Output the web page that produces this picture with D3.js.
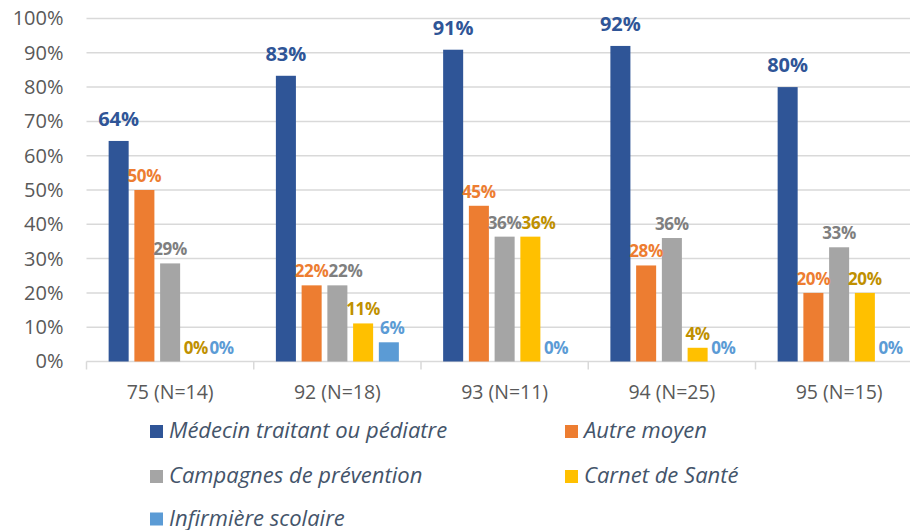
<!DOCTYPE html>
<html>
<head>
<meta charset="utf-8">
<script src="https://cdn.jsdelivr.net/npm/d3@7"></script>
<style>
  html, body { margin: 0; padding: 0; background: #ffffff; }
  svg { display: block; }
  text { font-family: "Open Sans", "Noto Sans", sans-serif; }
</style>
</head>
<body>
<div id="chart"></div>
<script>
// ---- Data ----
const categories = ["75 (N=14)", "92 (N=18)", "93 (N=11)", "94 (N=25)", "95 (N=15)"];
const seriesNames = ["Médecin traitant ou pédiatre", "Autre moyen", "Campagnes de prévention", "Carnet de Santé", "Infirmière scolaire"];
const medecin   = [64.3, 83.3, 90.9, 92, 80];
const autre     = [50, 22.2, 45.4, 28, 20];
const campagnes = [28.6, 22.2, 36.4, 36, 33.3];
const carnet    = [0, 11.1, 36.4, 4, 20];
const infirmiere = [0, 5.6, 0, 0, 0];
const yTicks = [0, 10, 20, 30, 40, 50, 60, 70, 80, 90, 100];

const seriesValues = [medecin, autre, campagnes, carnet, infirmiere];
const barColors = ["#2F5597", "#ED7D31", "#A5A5A5", "#FFC000", "#5B9BD5"];
const labelColors = ["#2F5597", "#ED7D31", "#7F7F7F", "#BF9000", "#5B9BD5"];

// ---- Layout ----
const W = 910, H = 530;
const plotLeft = 86.5, catStep = 167.25;
const plotRight = plotLeft + catStep * categories.length;
const plotTop = 18.5, plotBottom = 361.5;

const svg = d3.select("#chart").append("svg").attr("width", W).attr("height", H);

const x0 = d3.scaleBand().domain(categories).range([plotLeft, plotRight]).padding(0);
const x1 = d3.scaleBand().domain(d3.range(seriesNames.length))
  .range([0, x0.bandwidth()]).paddingInner(0.222).paddingOuter(0.86);
const y = d3.scaleLinear().domain([0, 100]).range([plotBottom, plotTop]);

// gridlines
svg.append("g").selectAll("line").data(yTicks.filter(d => d > 0)).join("line")
  .attr("x1", plotLeft).attr("x2", plotRight)
  .attr("y1", d => y(d)).attr("y2", d => y(d))
  .attr("stroke", "#D9D9D9").attr("stroke-width", 1.5);

// y axis labels
const yAxis = d3.axisLeft(y).tickValues(yTicks).tickFormat(d => d + "%").tickSize(0).tickPadding(23);
const gy = svg.append("g").attr("transform", `translate(${plotLeft},0)`).call(yAxis);
gy.select(".domain").remove();
gy.selectAll("text").attr("font-size", 20).attr("fill", "#595959")
  .attr("font-family", "'Open Sans', sans-serif");

// x axis
const gx = svg.append("g").attr("transform", `translate(0,${plotBottom})`);
gx.append("line").attr("x1", plotLeft).attr("x2", plotRight).attr("y1", 0).attr("y2", 0)
  .attr("stroke", "#D9D9D9").attr("stroke-width", 1.5);
const boundaries = categories.map(c => x0(c)).concat([plotRight]);
gx.selectAll("line.tk").data(boundaries).join("line").attr("class", "tk")
  .attr("x1", d => d).attr("x2", d => d).attr("y1", 0).attr("y2", 8)
  .attr("stroke", "#D9D9D9").attr("stroke-width", 1.5);
gx.selectAll("text").data(categories).join("text")
  .attr("x", d => x0(d) + x0.bandwidth() / 2).attr("y", 37)
  .attr("text-anchor", "middle").attr("font-size", 19.5).attr("fill", "#595959")
  .text(d => d);

// bars
const groups = svg.append("g").selectAll("g").data(categories).join("g")
  .attr("transform", d => `translate(${x0(d)},0)`);
groups.selectAll("rect").data((c, ci) => seriesValues.map((vals, si) => ({ si, v: vals[ci] })))
  .join("rect")
  .attr("x", d => x1(d.si)).attr("width", x1.bandwidth())
  .attr("y", d => y(d.v)).attr("height", d => y(0) - y(d.v))
  .attr("fill", d => barColors[d.si]);

// labels
groups.each(function () {
  const labels = d3.select(this).selectAll("text")
    .data((c) => { const ci = categories.indexOf(c); return seriesValues.map((vals, si) => ({ si, v: vals[ci] })); })
    .join("text")
    .attr("x", d => x1(d.si) + x1.bandwidth() / 2)
    .attr("y", d => y(d.v) - (d.si === 0 ? 15 : 8))
    .attr("text-anchor", "middle")
    .attr("font-weight", "bold")
    .attr("font-size", d => d.si === 0 ? 20 : 17)
    .attr("letter-spacing", d => d.si === 0 ? 0 : -0.3)
    .attr("fill", d => labelColors[d.si])
    .text(d => Math.round(d.v) + "%");
  // nudge overlapping neighbours to the right (like the original's placement)
  const nodes = labels.nodes();
  for (let i = 1; i < nodes.length; i++) {
    const a = nodes[i - 1].getBBox(), b = nodes[i].getBBox();
    const vOverlap = a.y < b.y + b.height - 4 && b.y < a.y + a.height - 4;
    const hOverlap = a.x + a.width - b.x;
    if (vOverlap && hOverlap > 0) {
      const cur = +nodes[i].getAttribute("x");
      nodes[i].setAttribute("x", cur + hOverlap);
    }
  }
});

// legend
const legendPos = [[150, 431.5], [565, 431.5], [150, 476.5], [565, 476.5], [150, 519]];
const lg = svg.append("g").selectAll("g").data(seriesNames).join("g")
  .attr("transform", (d, i) => `translate(${legendPos[i][0]},${legendPos[i][1]})`);
lg.append("rect").attr("x", 0).attr("y", -6.5).attr("width", 13).attr("height", 13)
  .attr("fill", (d, i) => barColors[i]);
lg.append("text").attr("x", 19).attr("y", 6.5).attr("font-size", 22)
  .attr("font-style", "italic").attr("fill", "#44546A").text(d => d);
</script>
</body>
</html>
